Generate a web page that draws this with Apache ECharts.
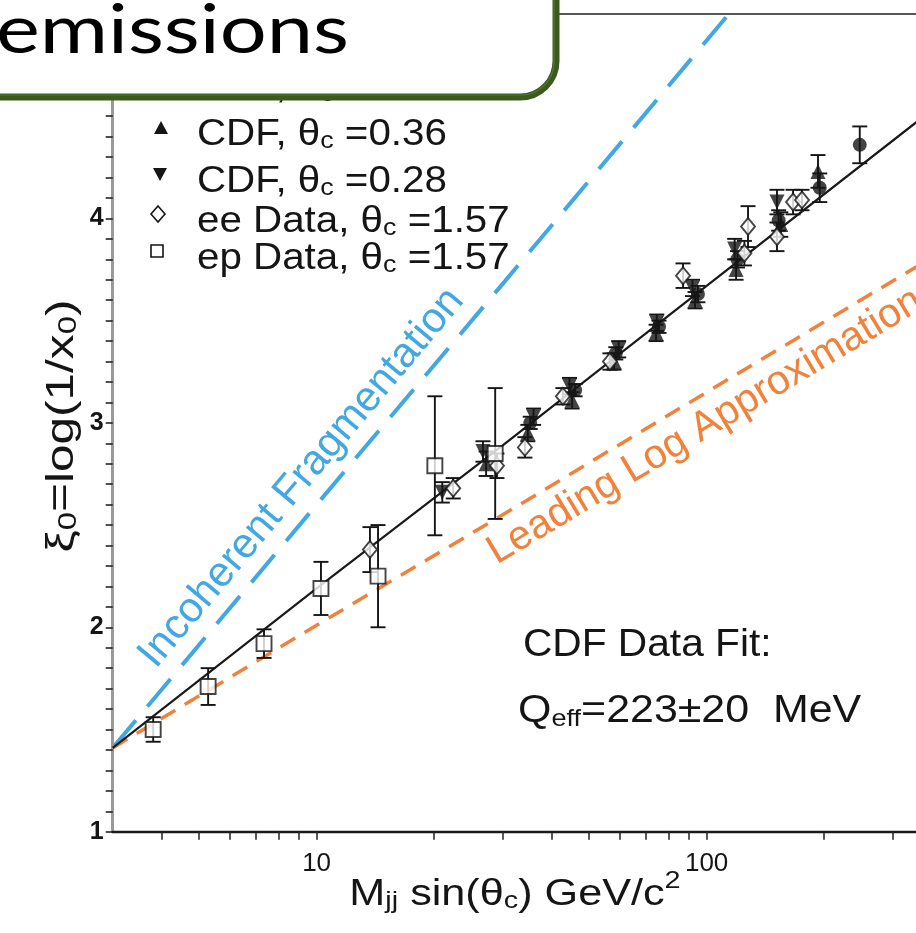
<!DOCTYPE html>
<html>
<head>
<meta charset="utf-8">
<script src="https://cdn.jsdelivr.net/npm/echarts@6/dist/echarts.min.js"></script>
<style>
  html, body { margin: 0; padding: 0; background: #fff; }
  #chart { width: 916px; height: 933px; }
</style>
</head>
<body>
<div id="chart"></div>
<script>
// ---------- data ----------
// x: Mjj sin(theta_c) [GeV/c^2], y: xi_0, e: error on xi_0
const cdf047 = [
  [35.3, 3.00, 0.03], [46.0, 3.16, 0.03], [58.5, 3.34, 0.03], [75.5, 3.47, 0.03],
  [95.0, 3.63, 0.04], [120, 3.80, 0.04], [153, 3.99, 0.05], [195, 4.15, 0.07], [247, 4.36, 0.09]
];
const cdf036 = [
  [27.2, 2.80, 0.06], [34.8, 2.95, 0.04], [45.2, 3.11, 0.04], [57.9, 3.30, 0.04],
  [74.2, 3.44, 0.04], [93.4, 3.60, 0.04], [119, 3.75, 0.05], [155, 3.97, 0.06], [193, 4.23, 0.08]
];
const cdf028 = [
  [21.0, 2.66, 0.05], [26.7, 2.86, 0.05], [36.0, 3.03, 0.04], [44.5, 3.18, 0.04],
  [59.5, 3.36, 0.04], [74.5, 3.49, 0.04], [92.0, 3.66, 0.04], [118, 3.85, 0.05], [151.5, 4.08, 0.06]
];
const eeData = [
  [13.7, 2.38, 0.11], [22.4, 2.68, 0.05], [29.0, 2.79, 0.06], [34.2, 2.88, 0.05],
  [42.8, 3.13, 0.04], [56.5, 3.30, 0.04], [87.0, 3.72, 0.06], [125, 3.83, 0.06],
  [127.7, 3.96, 0.10], [151.5, 3.91, 0.07], [166.6, 4.08, 0.06], [175.6, 4.09, 0.05]
];
const epData = [
  [3.81, 1.50, 0.06], [5.27, 1.71, 0.09], [7.33, 1.92, 0.07], [10.26, 2.19, 0.13],
  [14.37, 2.25, 0.25], [20.1, 2.79, 0.34], [28.7, 2.85, 0.32]
];

// curves
const fitX = [3, 10, 30, 100, 350];
const fitCdfY = [1.41, 2.19, 2.89, 3.67, 4.48];
const incoherentX = [3, 10, 30, 114];
const incoherentY = [1.41, 2.60, 3.68, 5.0];
const llaX = [3, 10, 30, 100, 350];
const llaY = [1.41, 2.01, 2.55, 3.15, 3.77];

// axis ticks
const xTickValues = [4, 5, 6, 7, 8, 9, 10, 20, 30, 40, 50, 60, 70, 80, 90, 100, 200, 300];
const xLabelValues = [10, 100];

// legend text
const legendPrefix = ['CDF, ', 'CDF, ', 'CDF, ', 'ee Data, ', 'ep Data, '];
const legendTheta = ['0.47', '0.36', '0.28', '1.57', '1.57'];

// ---------- drawing ----------
const FONT = "'Liberation Sans', Arial, Helvetica, sans-serif";
const INK = '#151515';
const BLUE = '#42a8e2';
const ORANGE = '#f0823c';
const deg = Math.PI / 180;

const zip = (xs, ys) => xs.map((x, i) => [x, ys[i]]);

function errorBars(name, data) {
  return {
    type: 'custom', name, data, z: 4, silent: true,
    encode: { x: 0, y: 1 },
    renderItem(params, api) {
      const x = api.value(0), y = api.value(1), e = api.value(2);
      const t = api.coord([x, y + e]);
      const b = api.coord([x, y - e]);
      const hw = 7.5;
      const st = { stroke: INK, lineWidth: 1.9 };
      return {
        type: 'group',
        children: [
          { type: 'line', shape: { x1: t[0], y1: t[1], x2: b[0], y2: b[1] }, style: st },
          { type: 'line', shape: { x1: t[0] - hw, y1: t[1], x2: t[0] + hw, y2: t[1] }, style: st },
          { type: 'line', shape: { x1: b[0] - hw, y1: b[1], x2: b[0] + hw, y2: b[1] }, style: st }
        ]
      };
    }
  };
}

function points(name, data, symbol, size, rotate, hollow) {
  return {
    type: 'scatter', name, data: data.map(d => [d[0], d[1]]), z: 5,
    symbol, symbolSize: size, symbolRotate: rotate || 0,
    itemStyle: hollow
      ? { color: '#fff', borderColor: INK, borderWidth: 1.9 }
      : { color: INK }
  };
}

const baseRich = {
  n: { fontSize: 36, fontFamily: FONT, lineHeight: 44, verticalAlign: 'bottom', fill: INK },
  s: { fontSize: 24, fontFamily: FONT, lineHeight: 22, verticalAlign: 'bottom', fill: INK }
};

// legend rows: symbol centre + text centre
const legendRows = [
  { sym: 'circle', sx: 160, sy: 84, ty: 84 },
  { sym: 'up', sx: 161, sy: 128, ty: 131 },
  { sym: 'down', sx: 160, sy: 174, ty: 178 },
  { sym: 'diamond', sx: 158, sy: 214, ty: 218 },
  { sym: 'square', sx: 157, sy: 251, ty: 255 }
];

function legendSymbol(r) {
  const fillStyle = { fill: INK };
  const openStyle = { fill: '#fff', stroke: INK, lineWidth: 1.6 };
  const x = r.sx, y = r.sy;
  switch (r.sym) {
    case 'circle': return { type: 'circle', shape: { cx: x, cy: y, r: 6.5 }, style: fillStyle, z: 10 };
    case 'up': return { type: 'polygon', shape: { points: [[x - 7, y + 6], [x + 7, y + 6], [x, y - 7]] }, style: fillStyle, z: 10 };
    case 'down': return { type: 'polygon', shape: { points: [[x - 7, y - 6], [x + 7, y - 6], [x, y + 7]] }, style: fillStyle, z: 10 };
    case 'diamond': return { type: 'polygon', shape: { points: [[x, y - 8], [x + 7, y], [x, y + 8], [x - 7, y]] }, style: openStyle, z: 10 };
    default: return { type: 'rect', shape: { x: x - 6, y: y - 6, width: 12, height: 12 }, style: openStyle, z: 10 };
  }
}

const legendGraphics = [];
legendRows.forEach((r, i) => {
  legendGraphics.push(legendSymbol(r));
  legendGraphics.push({
    type: 'text', x: 197, y: r.ty, z: 10, scaleX: 1.12,
    style: {
      text: `{n|${legendPrefix[i]}θ}{s|c}{n| =${legendTheta[i]}}`,
      rich: baseRich, align: 'left', verticalAlign: 'middle'
    }
  });
});

const annotationGraphics = [
  {
    type: 'text', x: 523, y: 646, z: 10, scaleX: 1.07,
    style: { text: 'CDF Data Fit:', font: `38px ${FONT}`, fill: INK, align: 'left', verticalAlign: 'middle' }
  },
  {
    type: 'text', x: 518, y: 708, z: 10, scaleX: 1.13,
    style: {
      text: '{q|Q}{e|eff}{q|=223±20  MeV}',
      rich: {
        q: { fontSize: 38, fontFamily: FONT, lineHeight: 46, verticalAlign: 'bottom', fill: INK },
        e: { fontSize: 24, fontFamily: FONT, lineHeight: 22, verticalAlign: 'bottom', fill: INK }
      },
      align: 'left', verticalAlign: 'middle'
    }
  },
  {
    type: 'text', x: 147, y: 662, rotation: 50 * deg, z: 10,
    style: { text: 'Incoherent Fragmentation', font: `42px ${FONT}`, fill: BLUE, align: 'left', verticalAlign: 'middle' }
  },
  {
    type: 'text', x: 491, y: 555, rotation: 31 * deg, z: 10,
    style: { text: 'Leading Log Approximation', font: `41px ${FONT}`, fill: ORANGE, align: 'left', verticalAlign: 'middle' }
  },
  // axis titles
  {
    type: 'text', x: 515, y: 891, z: 10, scaleX: 1.2,
    style: {
      text: '{a|M}{s|jj}{a| sin(θ}{s|c}{a|) GeV/c}{p|2}',
      rich: {
        a: { fontSize: 36, fontFamily: FONT, lineHeight: 44, verticalAlign: 'bottom', fill: INK },
        s: { fontSize: 24, fontFamily: FONT, lineHeight: 22, verticalAlign: 'bottom', fill: INK },
        p: { fontSize: 24, fontFamily: FONT, lineHeight: 22, verticalAlign: 'top', fill: INK }
      },
      align: 'center', verticalAlign: 'middle'
    }
  },
  {
    type: 'text', x: 58, y: 426, rotation: 90 * deg, scaleX: 1.27, z: 10,
    style: {
      text: '{a|ξ}{s|0}{a|=log(1/x}{s|0}{a|)}',
      rich: {
        a: { fontSize: 39, fontFamily: FONT, lineHeight: 47, verticalAlign: 'bottom', fill: INK },
        s: { fontSize: 26, fontFamily: FONT, lineHeight: 24, verticalAlign: 'bottom', fill: INK }
      },
      align: 'center', verticalAlign: 'middle'
    }
  }
];

const titleGraphics = [
  {
    type: 'rect', z: 100,
    shape: { x: -40, y: -40, width: 596, height: 137, r: 36 },
    style: { fill: '#fff', stroke: '#3b5a1c', lineWidth: 7 }
  },
  {
    type: 'rect', z: 101,
    shape: { x: -38, y: -44, width: 592, height: 139, r: 33 },
    style: { fill: 'none', stroke: '#56773a', lineWidth: 1.2 }
  },
  {
    type: 'text', x: -4, y: -3, z: 102, scaleX: 1.22,
    style: { text: 'emissions', font: `68px Lato, sans-serif`, fill: '#000', align: 'left', verticalAlign: 'top' }
  }
];

const chart = echarts.init(document.getElementById('chart'), null, { renderer: 'canvas' });

chart.setOption({
  animation: false,
  backgroundColor: '#fff',
  grid: {
    left: 112.7, top: 14, right: -2.8, bottom: 101.3,
    show: true, borderColor: '#222', borderWidth: 1.5,
    containLabel: false, outerBoundsMode: 'none'
  },
  xAxis: {
    type: 'log', logBase: 10, min: 3, max: 350,
    axisLine: { show: true, onZero: false, lineStyle: { color: '#1a1a1a', width: 2.4 } },
    axisTick: { show: true, inside: false, length: 8, customValues: xTickValues, lineStyle: { color: '#222', width: 1.5 } },
    axisLabel: {
      customValues: xLabelValues, margin: 19,
      formatter: v => String(Math.round(v)),
      fontSize: 26, fontFamily: FONT, color: INK
    },
    splitLine: { show: false },
    minorTick: { show: false }
  },
  yAxis: {
    type: 'value', min: 1, max: 5, interval: 1,
    axisLine: { show: true, lineStyle: { color: '#9a9a9a', width: 3 } },
    axisTick: { show: true, length: 7, lineStyle: { color: '#222', width: 1.6 } },
    minorTick: { show: true, splitNumber: 10, length: 7, lineStyle: { color: '#222', width: 1.6 } },
    axisLabel: { fontSize: 25, fontWeight: 'bold', fontFamily: FONT, color: INK, margin: 9 },
    splitLine: { show: false }
  },
  series: [
    {
      type: 'line', name: 'CDF fit', data: zip(fitX, fitCdfY), symbol: 'none', z: 3,
      lineStyle: { color: '#1a1a1a', width: 2.2 }
    },
    {
      type: 'line', name: 'Incoherent Fragmentation', data: zip(incoherentX, incoherentY), symbol: 'none', z: 2,
      lineStyle: { color: BLUE, width: 4, type: [36, 18] }
    },
    {
      type: 'line', name: 'Leading Log Approximation', data: zip(llaX, llaY), symbol: 'none', z: 2,
      lineStyle: { color: ORANGE, width: 3.5, type: [17, 11] }
    },
    errorBars('CDF 0.47 err', cdf047),
    errorBars('CDF 0.36 err', cdf036),
    errorBars('CDF 0.28 err', cdf028),
    errorBars('ee err', eeData),
    errorBars('ep err', epData),
    points('CDF, θc =0.47', cdf047, 'circle', 14),
    points('CDF, θc =0.36', cdf036, 'triangle', 15),
    points('CDF, θc =0.28', cdf028, 'triangle', 15, 180),
    points('ee Data, θc =1.57', eeData, 'diamond', [14, 17], 0, true),
    points('ep Data, θc =1.57', epData, 'rect', 15, 0, true)
  ],
  graphic: { elements: [...legendGraphics, ...annotationGraphics, ...titleGraphics] }
});
</script>
</body>
</html>
